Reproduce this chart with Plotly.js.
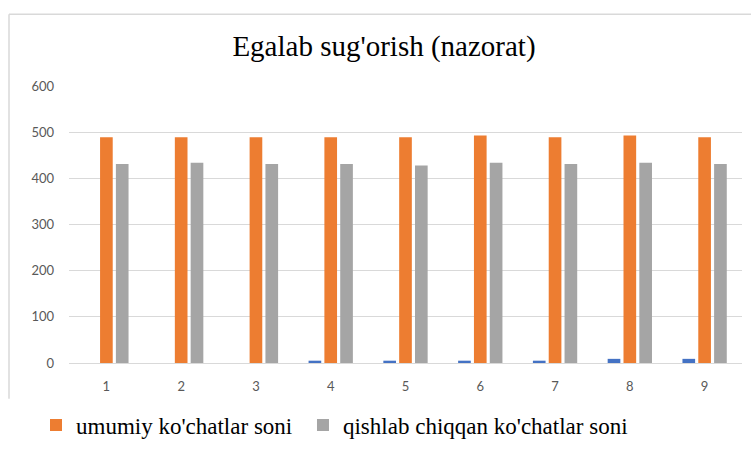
<!DOCTYPE html>
<html><head><meta charset="utf-8">
<script src="https://cdn.plot.ly/plotly-3.0.1.min.js"></script>
<style>html,body{margin:0;padding:0;background:#fff;}#chart{width:751px;height:455px;}</style>
</head><body><div id="chart"></div>
<script>
const categories = ["1","2","3","4","5","6","7","8","9"];
const seriesBlue = [0,0,0,5,5,5,5,9,9];
const umumiy = [489,489,489,489,489,493,489,493,489];
const qishlab = [431,434,431,431,428,434,431,434,431];
const nameUmumiy = "umumiy ko'chatlar soni";
const nameQishlab = "qishlab chiqqan ko'chatlar soni";
const titleText = "Egalab sug'orish (nazorat)";

const data = [
  {type:'bar', x:categories, y:seriesBlue, marker:{color:'#4472C4'}, showlegend:false, hoverinfo:'y'},
  {type:'bar', x:categories, y:umumiy, name:nameUmumiy + '\u00a0', marker:{color:'#ED7D31'}},
  {type:'bar', x:categories, y:qishlab, name:nameQishlab, marker:{color:'#A5A5A5'}}
];
const layout = {
  width:751, height:455,
  margin:{l:69, r:9, t:86, b:91},
  paper_bgcolor:'#fff', plot_bgcolor:'#fff',
  barmode:'group', bargap:0.365, bargroupgap:0.2,
  title:{text:titleText, font:{family:'Liberation Serif', size:29, color:'#000'}, x:384/751, xanchor:'center', xref:'container', y:1-46/455, yanchor:'middle', yref:'container'},
  xaxis:{type:'category', showgrid:false, zeroline:false, showline:false, ticks:'', tickfont:{family:'Lato', size:13, color:'#595959'}, ticklabelstandoff:14},
  yaxis:{range:[0,600], dtick:100, showgrid:true, gridcolor:'#d9d9d9', gridwidth:1, zeroline:true, zerolinecolor:'#d9d9d9', zerolinewidth:1, showline:false, ticks:'', tickfont:{family:'Lato', size:13, color:'#595959'}, ticklabelstandoff:14},
  legend:{orientation:'h', x:(36-69)/673, xanchor:'left', y:-0.22, yanchor:'middle', font:{family:'Liberation Serif', size:23, color:'#000'}, itemwidth:30, traceorder:'normal'},
  shapes:[
    {type:'line', xref:'paper', yref:'paper', x0:(9-69)/673, x1:(9-69)/673, y0:(364-400)/278, y1:(364-14)/278, line:{color:'#d9d9d9', width:1.5}},
    {type:'line', xref:'paper', yref:'paper', x0:(9-69)/673, x1:(760-69)/673, y0:(364-14)/278, y1:(364-14)/278, line:{color:'#d9d9d9', width:1.5}}
  ],
  showlegend:true
};
Plotly.newPlot('chart', data, layout, {displayModeBar:false, staticPlot:true});
</script></body></html>
